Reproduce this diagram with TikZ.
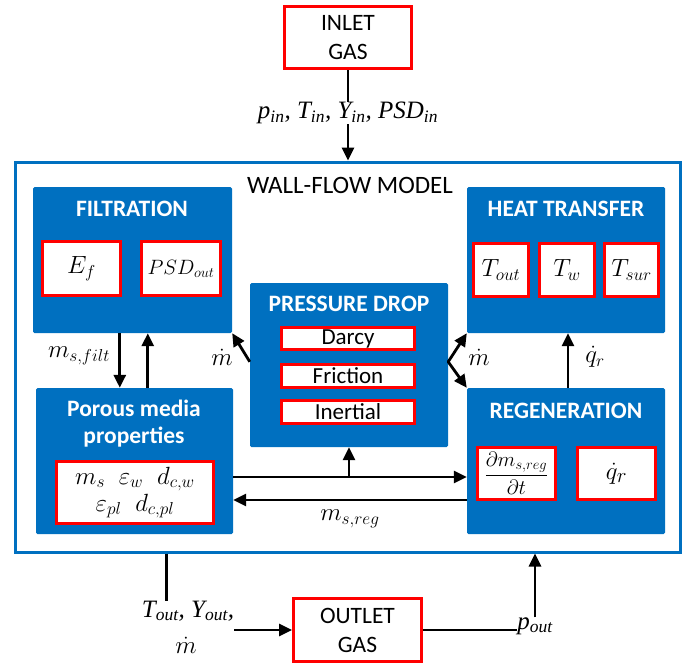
\documentclass[tikz,border=0pt]{standalone}
\usepackage{fontspec}
\setmainfont{Carlito}
\newfontfamily\tnr{Liberation Serif}
\usetikzlibrary{arrows.meta}
\definecolor{bblue}{HTML}{0070C0}
\definecolor{rred}{HTML}{FF0000}
\begin{document}
\begin{tikzpicture}[x=1pt,y=-1pt,
  blk/.style={fill=bblue, draw=none, rounded corners=1.5pt, inner sep=0pt},
  ttl/.style={text=white, font=\fontsize{23.5}{27}\selectfont\bfseries, align=center, inner sep=0pt},
  rbox/.style={draw=rred, line width=3.2pt, fill=white, inner sep=0pt, font=\fontsize{25}{28}\selectfont},
  gbox/.style={draw=rred, line width=3pt, fill=white, inner sep=0pt, align=center, font=\fontsize{23.5}{29}\selectfont},
  arr/.style={line width=2.8pt, -{Triangle[length=13pt,width=12pt]}},
  ln/.style={line width=2.8pt},
  mth/.style={font=\fontsize{24}{28}\selectfont, inner sep=0pt},
  tms/.style={font=\fontsize{25}{30}\tnr\itshape, inner sep=0pt, align=center},
]
\useasboundingbox (0,0) rectangle (688,665);

% inlet / outlet
\node[gbox, minimum width=127, minimum height=62] (inlet) at (348,37.5) {INLET\\GAS};
\node[gbox, minimum width=128, minimum height=63] (outlet) at (357.5,630) {OUTLET\\GAS};

% outer model box
\node[draw=bblue, line width=3pt, minimum width=665, minimum height=390, inner sep=0pt] (wf) at (347.5,357) {};
\node[font=\fontsize{25}{28}\selectfont, inner sep=0pt] (wftitle) at (350,185) {WALL-FLOW MODEL};

% blue blocks
\node[blk, minimum width=199, minimum height=146] (filt) at (132.5,260) {};
\node[blk, minimum width=198, minimum height=146] (heat) at (566,260) {};
\node[blk, minimum width=198, minimum height=164] (pd) at (349,365) {};
\node[blk, minimum width=197, minimum height=146] (por) at (134.5,461) {};
\node[blk, minimum width=198, minimum height=146] (reg) at (566,461) {};

% titles
\node[ttl] (filtT) at (132,209) {FILTRATION};
\node[ttl] (heatT) at (566,209) {HEAT TRANSFER};
\node[ttl] (pdT) at (349,304) {PRESSURE DROP};
\node[ttl] (porT) at (134,424) {Porous media\\properties};
\node[ttl] (regT) at (566,411) {REGENERATION};

% filtration inner
\node[rbox, minimum width=78, minimum height=54] (ef) at (81.5,268.5) {$E_f$};
\node[rbox, minimum width=79, minimum height=54, font=\fontsize{22}{26}\selectfont] (psd) at (181,268.5) {$PSD_{out}$};
% heat transfer inner
\node[rbox, minimum width=55, minimum height=53] (tout) at (501,270) {$T_{out}$};
\node[rbox, minimum width=55, minimum height=53] (tw) at (567,270) {$T_w$};
\node[rbox, minimum width=54, minimum height=53] (tsur) at (631.5,270) {$T_{sur}$};
% pressure drop inner
\node[gbox, minimum width=133, minimum height=22, font=\fontsize{23}{25}\selectfont] (darcy) at (348,338.5) {Darcy};
\node[gbox, minimum width=133, minimum height=23, font=\fontsize{23}{25}\selectfont] (fric) at (348,376) {Friction};
\node[gbox, minimum width=133, minimum height=23, font=\fontsize{23}{25}\selectfont] (inert) at (348,412) {Inertial};
% porous inner
\node[rbox, minimum width=157, minimum height=62, align=center, font=\fontsize{23}{27}\selectfont] (pprop) at (135,492.5) {$m_s\;\;\varepsilon_w\;\;d_{c,w}$\\$\varepsilon_{pl}\;\;d_{c,pl}$};
% regeneration inner
\node[rbox, minimum width=78, minimum height=52, font=\fontsize{20}{24}\selectfont] (dm) at (516.5,473.5) {$\displaystyle\frac{\partial m_{s,reg}}{\partial t}$};
\node[rbox, minimum width=78, minimum height=52, font=\fontsize{29}{30}\selectfont] (qr) at (616.5,473.5) {$\dot q_r$};

% labels
\node[tms] (pin) at (348,113) {p\textsubscript{in}, T\textsubscript{in}, Y\textsubscript{in}, PSD\textsubscript{in}};
\node[mth] (lfilt) at (79,356) {$m_{s,filt}$};
\node[mth] (lmdl) at (222,357) {$\dot m$};
\node[mth] (lmdr) at (479,357) {$\dot m$};
\node[mth] (lqr) at (595,357) {$\dot q_r$};
\node[mth] (lreg) at (350,519) {$m_{s,reg}$};
\node[tms] (ltout) at (188,611) {T\textsubscript{out}, Y\textsubscript{out},};
\node[tms] (lmdb) at (186,645) {$\dot m$};
\node[tms] (lpout) at (535,626) {p\textsubscript{out}};

% connectors
\draw[ln] (inlet.south) -- (inlet.south |- pin.north);
\draw[arr] (inlet.south |- pin.south) -- (inlet.south |- wf.north);

\coordinate (f1) at ([xshift=87pt]filt.south west);
\coordinate (f2) at ([xshift=115pt]filt.south west);
\draw[arr] (f1) -- (f1 |- por.north);
\draw[arr] (f2 |- por.north) -- (f2);

\coordinate (pl) at ([yshift=-79pt]pd.north west);
\coordinate (pr) at ([yshift=-79pt]pd.north east);
\draw[arr] (pl) -- (filt.south east);
\draw[arr, line cap=round] (pr) -- (heat.south west);
\draw[arr, line cap=round] (pr) -- (reg.north west);

\coordinate (q1) at ([xshift=2pt]reg.north);
\draw[arr] (q1) -- (q1 |- heat.south);

\coordinate (h1) at ([yshift=-16pt]por.east);
\coordinate (h2) at ([yshift=-39pt]reg.west);
\draw[arr] (h1) -- (h1 -| reg.west);
\draw[arr] (h1 -| pd.south) -- (pd.south);
\draw[arr] (h2) -- (h2 -| por.east);

\coordinate (b1) at ([xshift=153pt]wf.south west);
\draw[ln] (b1) -- (b1 |- ltout.north);
\draw[arr] (ltout.east |- outlet.west) -- (outlet.west);
\draw[ln] (outlet.east) -- (outlet.east -| lpout.west);
\draw[arr] (lpout.north) -- (lpout.north |- wf.south);
\end{tikzpicture}
\end{document}
